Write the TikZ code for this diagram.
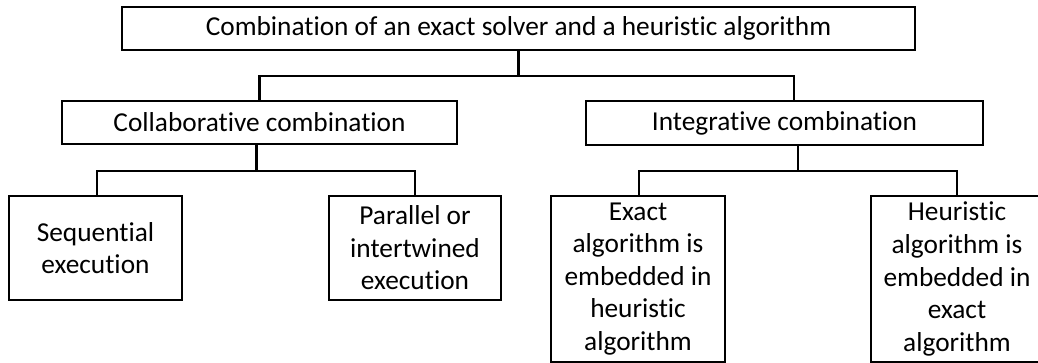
\documentclass[tikz,border=0pt]{standalone}
\usepackage{fontspec}
\setmainfont{Carlito}[RawFeature=-liga]
\begin{document}
\begin{tikzpicture}[x=0.75pt,y=-0.75pt,
  box/.style={draw, line width=2.2pt, inner sep=0pt, align=center,
    font=\fontsize{20.5}{24.4}\selectfont},
  link/.style={draw, line width=2.2pt, line join=miter}]
\useasboundingbox (0,0) rectangle (1038,363);
\fill[white] (0,0) rectangle (1038,363);

% hierarchy boxes
\node[box, minimum width=594.75pt, minimum height=32.25pt] (top) at (518.5,28.5)
  {Combination of an exact solver and a heuristic algorithm};
\node[box, minimum width=296.25pt, minimum height=32.25pt] (collab) at (259.5,122.5)
  {Collaborative combination};
\node[box, minimum width=297.75pt, minimum height=33pt] (integ) at (784.5,123)
  {Integrative combination};
\node[box, minimum width=129.75pt, minimum height=78pt] (seq) at (95.5,248)
  {Sequential\\execution};
\node[box, minimum width=129pt, minimum height=78pt] (par) at (415,248)
  {Parallel or\\intertwined\\execution};
\node[box, minimum width=130.5pt, minimum height=124.5pt] (exact) at (638,279)
  {Exact\\algorithm is\\embedded in\\heuristic\\algorithm};
\node[box, minimum width=129pt, minimum height=124.5pt] (heur) at (957,279)
  {Heuristic\\algorithm is\\embedded in\\exact\\algorithm};

% bus levels of the tree connectors
\coordinate (busA) at (0,76);
\coordinate (busB) at (0,171);

% top level
\draw[link] (top.south) -- (top.south |- busA);
\draw[link] (collab.north) |- ([xshift=7.1pt]integ.north |- busA) -- ([xshift=7.1pt]integ.north);

% collaborative branch
\draw[link] ([xshift=-2.6pt]collab.south) -- ([xshift=-2.6pt]collab.south |- busB);
\draw[link] ([xshift=1.1pt]seq.north) |- (par.north |- busB) -- (par.north);

% integrative branch
\draw[link] ([xshift=10.1pt]integ.south) -- ([xshift=10.1pt]integ.south |- busB);
\draw[link] ([xshift=0.75pt]exact.north) |- (heur.north |- busB) -- (heur.north);
\end{tikzpicture}
\end{document}
